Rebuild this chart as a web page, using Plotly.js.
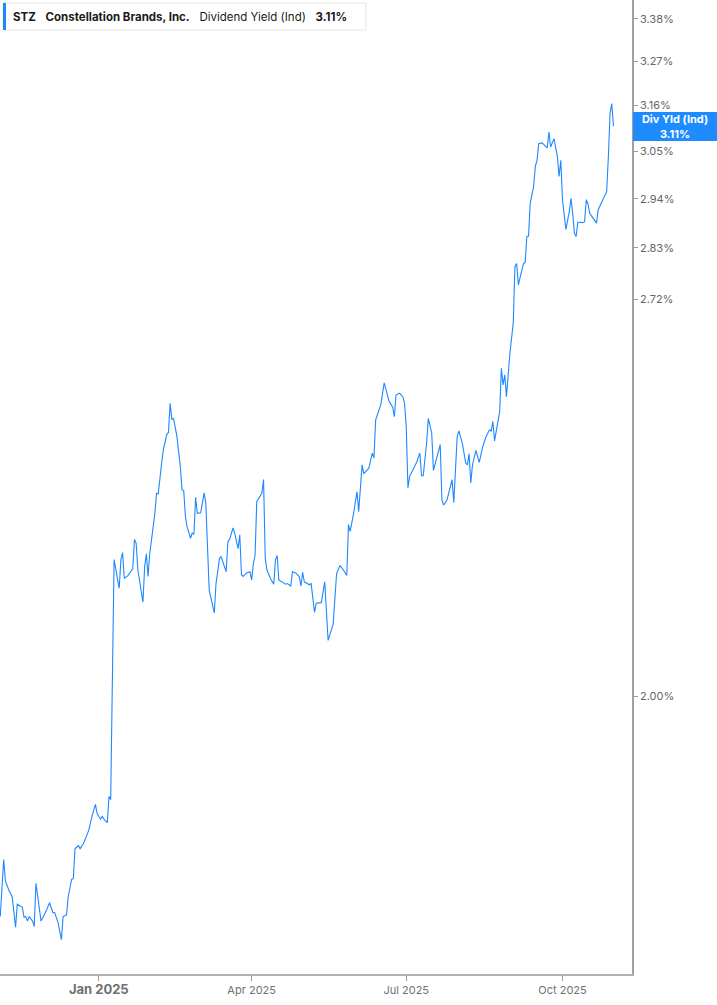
<!DOCTYPE html>
<html>
<head>
<meta charset="utf-8">
<script src="https://cdn.plot.ly/plotly-3.0.1.min.js"></script>
<style>
  html, body { margin: 0; padding: 0; background: #fff; }
  #yield-plot { width: 717px; height: 1005px; }
</style>
</head>
<body>
<div id="yield-plot"></div>
<script>
// STZ indicated dividend yield (%)
var dates = [
  '2024-11-04','2024-11-06','2024-11-07','2024-11-09','2024-11-11','2024-11-12','2024-11-13','2024-11-14','2024-11-16','2024-11-17',
  '2024-11-18','2024-11-19','2024-11-20','2024-11-21','2024-11-23','2024-11-24','2024-11-25','2024-11-26','2024-11-28','2024-12-01',
  '2024-12-03','2024-12-05','2024-12-06','2024-12-08','2024-12-10','2024-12-11','2024-12-13','2024-12-14','2024-12-16','2024-12-17',
  '2024-12-18','2024-12-20','2024-12-21','2024-12-23','2024-12-25','2024-12-26','2024-12-28','2024-12-30','2024-12-31','2025-01-02',
  '2025-01-03','2025-01-04','2025-01-06','2025-01-07','2025-01-08','2025-01-10','2025-01-13','2025-01-14','2025-01-15','2025-01-16',
  '2025-01-18','2025-01-21','2025-01-22','2025-01-23','2025-01-24','2025-01-27','2025-01-28','2025-01-29','2025-01-30','2025-01-31',
  '2025-02-02','2025-02-03','2025-02-04','2025-02-05','2025-02-07','2025-02-08','2025-02-10','2025-02-11','2025-02-12','2025-02-13',
  '2025-02-14','2025-02-16','2025-02-18','2025-02-19','2025-02-20','2025-02-21','2025-02-22','2025-02-24','2025-02-25','2025-02-26',
  '2025-02-27','2025-02-28','2025-03-02','2025-03-03','2025-03-04','2025-03-05','2025-03-07','2025-03-10','2025-03-11','2025-03-12',
  '2025-03-13','2025-03-14','2025-03-17','2025-03-18','2025-03-19','2025-03-21','2025-03-22','2025-03-24','2025-03-25','2025-03-26',
  '2025-03-27','2025-03-29','2025-03-31','2025-04-01','2025-04-02','2025-04-03','2025-04-04','2025-04-07','2025-04-08','2025-04-09',
  '2025-04-10','2025-04-12','2025-04-14','2025-04-15','2025-04-16','2025-04-17','2025-04-19','2025-04-21','2025-04-22','2025-04-24',
  '2025-04-25','2025-04-27','2025-04-29','2025-04-30','2025-05-01','2025-05-02','2025-05-05','2025-05-06','2025-05-08','2025-05-09',
  '2025-05-12','2025-05-14','2025-05-16','2025-05-19','2025-05-21','2025-05-23','2025-05-25','2025-05-27','2025-05-28','2025-05-29',
  '2025-05-31','2025-06-02','2025-06-03','2025-06-05','2025-06-06','2025-06-08','2025-06-09','2025-06-11','2025-06-12','2025-06-13',
  '2025-06-16','2025-06-18','2025-06-19','2025-06-21','2025-06-23','2025-06-24','2025-06-25','2025-06-27','2025-06-29','2025-06-30',
  '2025-07-01','2025-07-02','2025-07-03','2025-07-06','2025-07-07','2025-07-09','2025-07-10','2025-07-11','2025-07-13','2025-07-14',
  '2025-07-16','2025-07-17','2025-07-19','2025-07-21','2025-07-22','2025-07-23','2025-07-25','2025-07-28','2025-07-29','2025-07-31',
  '2025-08-01','2025-08-03','2025-08-05','2025-08-06','2025-08-07','2025-08-08','2025-08-09','2025-08-10','2025-08-11','2025-08-13',
  '2025-08-15','2025-08-17','2025-08-19','2025-08-20','2025-08-21','2025-08-22','2025-08-25','2025-08-26','2025-08-27','2025-08-28',
  '2025-08-29','2025-08-31','2025-09-02','2025-09-03','2025-09-04','2025-09-05','2025-09-07','2025-09-08','2025-09-09','2025-09-10',
  '2025-09-11','2025-09-12','2025-09-14','2025-09-15','2025-09-16','2025-09-17','2025-09-19','2025-09-21','2025-09-22','2025-09-23',
  '2025-09-24','2025-09-26','2025-09-28','2025-09-29','2025-09-30','2025-10-01','2025-10-03','2025-10-05','2025-10-06','2025-10-07',
  '2025-10-08','2025-10-09','2025-10-10','2025-10-11','2025-10-13','2025-10-14','2025-10-15','2025-10-16','2025-10-17','2025-10-19',
  '2025-10-21','2025-10-22','2025-10-23','2025-10-25','2025-10-27','2025-10-28','2025-10-29','2025-10-30','2025-10-31'
];

var yieldPct = [
  1.686,1.762,1.733,1.721,1.712,1.691,1.672,1.702,1.699,1.698,
  1.685,1.686,1.680,1.686,1.680,1.673,1.730,1.712,1.680,1.693,
  1.704,1.691,1.691,1.678,1.656,1.686,1.688,1.712,1.735,1.736,
  1.777,1.781,1.777,1.784,1.796,1.802,1.822,1.839,1.826,1.818,
  1.822,1.818,1.813,1.850,1.846,2.223,2.174,2.222,2.235,2.191,
  2.195,2.207,2.258,2.251,2.205,2.151,2.211,2.233,2.194,2.233,
  2.280,2.304,2.340,2.339,2.396,2.420,2.449,2.453,2.509,2.478,
  2.480,2.445,2.389,2.346,2.345,2.298,2.280,2.260,2.269,2.267,
  2.333,2.304,2.305,2.322,2.341,2.322,2.171,2.133,2.182,2.202,
  2.225,2.228,2.202,2.254,2.258,2.278,2.269,2.242,2.266,2.197,
  2.194,2.200,2.202,2.188,2.216,2.230,2.325,2.340,2.365,2.225,
  2.205,2.191,2.181,2.222,2.230,2.188,2.185,2.181,2.182,2.178,
  2.202,2.200,2.194,2.178,2.201,2.185,2.180,2.182,2.134,2.149,
  2.150,2.185,2.088,2.115,2.199,2.213,2.205,2.196,2.284,2.272,
  2.304,2.343,2.307,2.392,2.376,2.383,2.386,2.414,2.405,2.477,
  2.506,2.549,2.535,2.512,2.502,2.483,2.525,2.529,2.522,2.509,
  2.464,2.350,2.371,2.389,2.396,2.414,2.372,2.372,2.433,2.480,
  2.452,2.382,2.405,2.430,2.328,2.319,2.328,2.365,2.323,2.445,
  2.456,2.433,2.396,2.392,2.413,2.359,2.392,2.405,2.419,2.397,
  2.426,2.445,2.458,2.455,2.474,2.437,2.493,2.578,2.545,2.565,
  2.522,2.607,2.670,2.789,2.796,2.750,2.779,2.796,2.798,2.855,
  2.856,2.930,2.968,3.014,3.029,3.068,3.070,3.062,3.058,3.096,
  3.060,3.080,3.037,2.991,3.029,2.937,2.871,2.911,2.941,2.908,
  2.862,2.855,2.887,2.887,2.886,2.888,2.938,2.928,2.907,2.896,
  2.885,2.915,2.924,2.939,2.956,3.037,3.141,3.165,3.11
];

var yTicks = [2.00, 2.72, 2.83, 2.94, 3.05, 3.16, 3.27, 3.38];
var xTicks = ['2025-01-01', '2025-04-01', '2025-07-01', '2025-10-01'];
var xTickText = ['Jan 2025', 'Apr 2025', 'Jul 2025', 'Oct 2025'];

var ticker = 'STZ';
var company = 'Constellation Brands, Inc.';
var metric = 'Dividend Yield (Ind)';
var tagName = 'Div Yld (Ind)';

var lastVal = yieldPct[yieldPct.length - 1];
var sp = '\u00a0\u00a0\u00a0';

var trace1 = {
  x: dates,
  y: yieldPct,
  type: 'scatter',
  mode: 'lines',
  line: { color: '#1e88ff', width: 1.1 },
  hoverinfo: 'skip'
};

var layout = {
  width: 717,
  height: 1005,
  showlegend: false,
  paper_bgcolor: '#ffffff',
  plot_bgcolor: '#ffffff',
  font: { family: 'Inter, "Noto Sans", sans-serif', color: '#666' },
  margin: { l: 0, r: 85, t: 0, b: 31 },
  xaxis: {
    type: 'date',
    range: ['2024-11-03 20:00', '2025-11-10 22:00'],
    tickvals: xTicks,
    // the year-start label is drawn larger and bold
    ticktext: xTickText.map(function (t, i) {
      return i === 0 ? '<span style="font-size:13px"><b>' + t + '</b></span>' : t;
    }),
    tickfont: { size: 11, color: '#707070' },
    ticks: 'outside',
    ticklen: 5,
    tickcolor: '#999',
    tickwidth: 1,
    showgrid: false,
    zeroline: false,
    showline: true,
    linecolor: '#b0b0b0',
    linewidth: 2
  },
  yaxis: {
    type: 'log',
    side: 'right',
    range: [0.2075, 0.5352],
    tickvals: yTicks,
    ticktext: yTicks.map(function (v) { return v.toFixed(2) + '%'; }),
    tickfont: { size: 11, color: '#666' },
    ticks: 'outside',
    ticklen: 4,
    tickcolor: '#999',
    showgrid: false,
    zeroline: false,
    showline: true,
    linecolor: '#a0a0a0',
    linewidth: 1.5
  },
  shapes: [
    { type: 'rect', xref: 'paper', yref: 'paper', x0: 0.0047, x1: 0.579, y0: 0.9692, y1: 0.9969,
      line: { color: '#e4e4e4', width: 1 }, fillcolor: '#ffffff', layer: 'above' },
    { type: 'rect', xref: 'paper', yref: 'paper', x0: 0.0047, x1: 0.0095, y0: 0.9692, y1: 0.9969,
      line: { width: 0 }, fillcolor: '#1e88ff', layer: 'above' }
  ],
  annotations: [
    {
      xref: 'paper', yref: 'paper', x: 0.0175, y: 0.9830,
      xanchor: 'left', yanchor: 'middle', showarrow: false,
      text: '<b>' + ticker + '</b>' + sp + '<b>' + company + '</b>' + sp + metric + sp + '<b>' + lastVal.toFixed(2) + '%</b>',
      font: { size: 11.5, color: '#1a1a1a', family: 'Inter, "Noto Sans", sans-serif' }
    },
    {
      xref: 'paper', yref: 'y', x: 1, y: Math.log10(lastVal),
      xanchor: 'left', yanchor: 'middle', xshift: 1, showarrow: false,
      text: '<b>' + tagName + '<br>' + lastVal.toFixed(2) + '%</b>',
      font: { size: 11, color: '#ffffff', family: 'Inter, "Noto Sans", sans-serif' },
      bgcolor: '#1e8cff', width: 84, height: 29, borderpad: 0, borderwidth: 0
    }
  ]
};

var additional_param = {
  displayModeBar: false,          // no plotly toolbar
  displaylogo: false
};

Plotly.newPlot('yield-plot', [trace1], layout, additional_param);
</script>
</body>
</html>
